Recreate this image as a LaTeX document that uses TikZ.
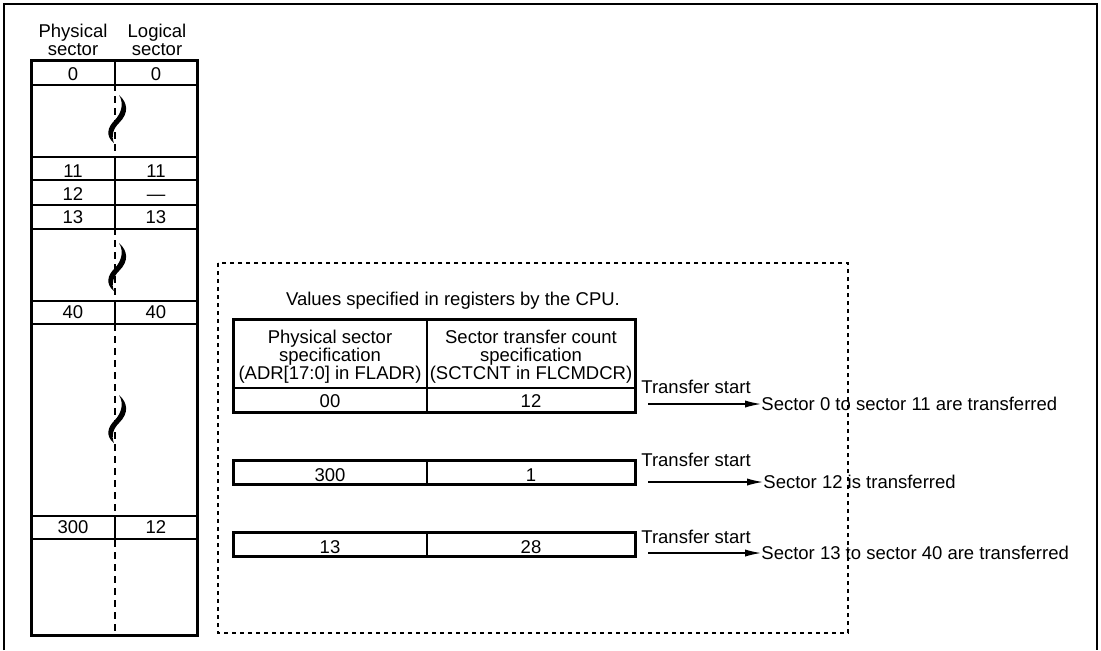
\documentclass[tikz,border=0pt]{standalone}
\usepackage{fontspec}
\setmainfont{Liberation Sans}
\usetikzlibrary{arrows.meta, positioning}

\begin{document}
\begin{tikzpicture}[
  x=0.5pt, y=-0.5pt,
  font=\fontsize{9.25}{9}\selectfont,
  txt/.style={inner sep=0pt},
  celltxt/.style={inner sep=0pt, anchor=base},
  hdr/.style={inner sep=0pt, anchor=south, align=center},
  border/.style={line width=1.5pt},
  grid/.style={line width=0.7pt},
  gapline/.style={line width=0.65pt, dash pattern=on 3.5pt off 2.5pt},
  dashbox/.style={line width=0.65pt, dash pattern=on 2pt off 2pt},
  arrow/.style={-{Latex[length=8pt, width=3.6pt]}, line width=0.65pt},
  wiggle/.pic={
    \fill (5,-24) .. controls (10,-16) and (8,-6) .. (0,2)
      .. controls (-6,8) and (-9,17) .. (0,24)
      .. controls (-3,17) and (-1,10) .. (5,4)
      .. controls (15,-6) and (14,-16) .. (5,-24) -- cycle;
  }
]
\useasboundingbox (0,0) rectangle (1101,650);

% FRAME
\draw[line width=1.1pt] (4,650) -- (4,4) -- (1097,4) -- (1097,650);

% SECTOR TABLE
\node[hdr] (physhdr) at (73,56) {Physical\\sector};
\node[hdr] (loghdr) at (157,56) {Logical\\sector};

\draw[gapline] (115,60) -- (115,635);
\foreach \ya/\yb in {60/85, 157/229, 301/324, 516/539}
  \draw[grid] (115,\ya) -- (115,\yb);
\foreach \y in {85, 157, 180, 205, 229, 301, 324, 516, 539}
  \draw[grid] (31,\y) -- (197,\y);
\draw[border] (31,60) rectangle (197,635);

\node[celltxt] (p0) at (73,80) {0};
\node[celltxt] (l0) at (156,80) {0};
\node[celltxt] (p11) at (73,177) {11};
\node[celltxt] (l11) at (156,177) {11};
\node[celltxt] (p12) at (73,200) {12};
\node[celltxt] (l12) at (156,200) {---};
\node[celltxt] (p13) at (73,223) {13};
\node[celltxt] (l13) at (156,223) {13};
\node[celltxt] (p40) at (73,318) {40};
\node[celltxt] (l40) at (156,318) {40};
\node[celltxt] (p300) at (73,533) {300};
\node[celltxt] (l300) at (156,533) {12};

\pic at (114,119) {wiggle};
\pic at (114,267) {wiggle};
\pic at (114,419) {wiggle};

% CPU REGISTER VALUES
\draw[dashbox] (218,263) rectangle (848,633);
\node[celltxt] (cpu) at (453,305) {Values specified in registers by the CPU.};

\draw[grid] (233,388) -- (635,388);
\draw[grid] (427,319) -- (427,412);
\draw[border] (233,319) rectangle (635,412);
\node[hdr] (adrhdr) at (330,384) {Physical sector\\specification\\(ADR[17:0] in FLADR)};
\node[hdr] (cnthdr) at (531,384) {Sector transfer count\\specification\\(SCTCNT in FLCMDCR)};
\node[celltxt] (adr1) at (330,407) {00};
\node[celltxt] (cnt1) at (531,407) {12};

\draw[grid] (427,460) -- (427,484);
\draw[border] (233,460) rectangle (635,484);
\node[celltxt] (adr2) at (330,481) {300};
\node[celltxt] (cnt2) at (531,481) {1};

\draw[grid] (427,532) -- (427,556);
\draw[border] (233,532) rectangle (635,556);
\node[celltxt] (adr3) at (330,553) {13};
\node[celltxt] (cnt3) at (531,553) {28};

% TRANSFERS
\node[txt, anchor=west] (ts1) at (641,387) {Transfer start};
\node[txt, anchor=west] (ts2) at (641,460) {Transfer start};
\node[txt, anchor=west] (ts3) at (641,537) {Transfer start};

\node[txt, anchor=west] (res1) at (761,404) {Sector 0 to sector 11 are transferred};
\node[txt, anchor=west] (res2) at (763,482) {Sector 12 is transferred};
\node[txt, anchor=west] (res3) at (761,553) {Sector 13 to sector 40 are transferred};

\coordinate (go1) at (648,404);
\coordinate (go2) at (648,482);
\coordinate (go3) at (648,553);
\draw[arrow] (go1) -- (res1.west);
\draw[arrow] (go2) -- (res2.west);
\draw[arrow] (go3) -- (res3.west);

\end{tikzpicture}
\end{document}
